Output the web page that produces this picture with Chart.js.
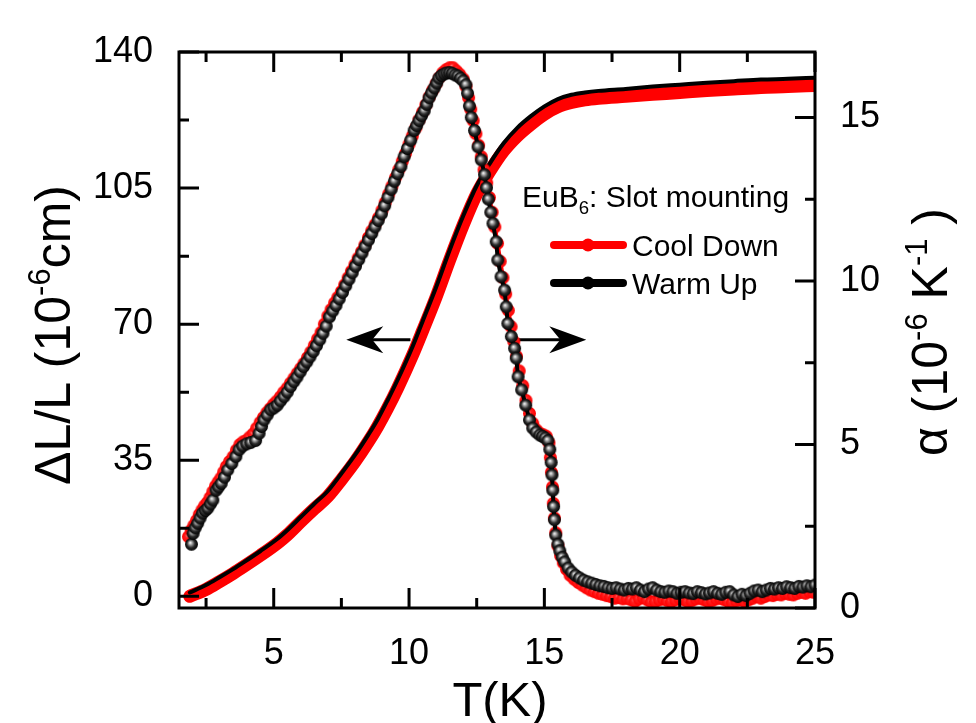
<!DOCTYPE html>
<html lang="en">
<head>
<meta charset="UTF-8">
<title>EuB6 thermal expansion</title>
<script src="https://cdn.jsdelivr.net/npm/chart.js@4.4.1/dist/chart.umd.min.js"></script>
<style>
  body { margin: 0; background: #fff; }
  canvas { display: block; }
</style>
</head>
<body>
<canvas id="expChart" width="976" height="723"></canvas>
<script>
// ---- data ----
// alpha (right axis), warm up run
var warmT = [
  1.96, 2.02, 2.10, 2.19, 2.28, 2.37, 2.47, 2.56, 2.66, 2.75,
  2.87, 2.96, 3.06, 3.18, 3.30, 3.45, 3.60, 3.72, 3.85, 4.00,
  4.15, 4.33, 4.46, 4.55, 4.64, 4.76, 4.89, 5.01, 5.13, 5.25,
  5.38, 5.50, 5.62, 5.74, 5.86, 5.98, 6.10, 6.22, 6.34, 6.46,
  6.58, 6.70, 6.82, 6.94, 7.06, 7.18, 7.30, 7.42, 7.54, 7.66,
  7.78, 7.90, 8.02, 8.14, 8.26, 8.38, 8.50, 8.62, 8.74, 8.86,
  8.98, 9.10, 9.22, 9.34, 9.46, 9.58, 9.70, 9.82, 9.94, 10.06,
  10.19, 10.28, 10.37, 10.46, 10.56, 10.65, 10.74, 10.83, 10.93, 11.02,
  11.10, 11.20, 11.30, 11.40, 11.50, 11.60, 11.70, 11.80, 11.90, 12.00,
  12.10, 12.16, 12.23, 12.30, 12.42, 12.55, 12.67, 12.79, 12.86, 12.93,
  13.02, 13.10, 13.22, 13.28, 13.40, 13.53, 13.59, 13.65, 13.78, 13.90,
  13.96, 14.03, 14.16, 14.31, 14.45, 14.57, 14.70, 14.83, 14.93, 15.03,
  15.13, 15.20, 15.25, 15.28, 15.31, 15.34, 15.37, 15.42, 15.50, 15.57,
  15.66, 15.75, 15.88, 16.01, 16.15, 16.30, 16.45, 16.60, 16.75, 16.90,
  17.05, 17.20, 17.35, 17.50, 17.65, 17.80, 17.95, 18.10, 18.25, 18.40,
  18.55, 18.70, 18.85, 19.00, 19.15, 19.30, 19.45, 19.60, 19.75, 19.90,
  20.05, 20.20, 20.35, 20.50, 20.65, 20.80, 20.95, 21.10, 21.25, 21.40,
  21.55, 21.70, 21.85, 22.00, 22.15, 22.30, 22.45, 22.60, 22.75, 22.90,
  23.05, 23.20, 23.35, 23.50, 23.65, 23.80, 23.95, 24.10, 24.25, 24.40,
  24.55, 24.70, 24.85, 25.00
];
var warmAlpha = [
  1.95, 2.28, 2.45, 2.59, 2.75, 2.90, 2.98, 3.05, 3.18, 3.30,
  3.60, 3.70, 3.81, 4.00, 4.22, 4.42, 4.63, 4.84, 4.95, 5.02,
  5.06, 5.12, 5.34, 5.55, 5.75, 5.90, 6.06, 6.12, 6.20, 6.33,
  6.46, 6.60, 6.77, 6.92, 7.06, 7.22, 7.38, 7.52, 7.68, 7.84,
  8.02, 8.20, 8.40, 8.62, 8.90, 9.08, 9.25, 9.45, 9.65, 9.85,
  10.05, 10.25, 10.45, 10.65, 10.85, 11.05, 11.25, 11.45, 11.65, 11.85,
  12.05, 12.30, 12.55, 12.80, 13.05, 13.28, 13.50, 13.80, 14.05, 14.30,
  14.60, 14.75, 14.90, 15.05, 15.20, 15.40, 15.60, 15.75, 15.90, 16.05,
  16.20, 16.28, 16.33, 16.36, 16.37, 16.35, 16.30, 16.27, 16.20, 16.12,
  16.00, 15.74, 15.35, 15.00, 14.60, 14.10, 13.70, 13.25, 12.85, 12.50,
  12.10, 11.76, 11.20, 10.64, 10.13, 9.72, 9.21, 8.70, 8.30, 7.94,
  7.64, 7.07, 6.67, 6.20, 5.75, 5.50, 5.38, 5.29, 5.25, 5.20,
  5.12, 4.85, 4.45, 4.07, 3.60, 3.10, 2.70, 2.23, 1.95, 1.75,
  1.55, 1.41, 1.22, 1.10, 1.00, 0.92, 0.85, 0.80, 0.76, 0.72,
  0.68, 0.66, 0.62, 0.60, 0.62, 0.58, 0.55, 0.60, 0.58, 0.62,
  0.55, 0.50, 0.58, 0.62, 0.55, 0.50, 0.48, 0.52, 0.50, 0.45,
  0.48, 0.50, 0.46, 0.44, 0.50, 0.47, 0.43, 0.46, 0.50, 0.45,
  0.42, 0.48, 0.50, 0.40, 0.35, 0.42, 0.38, 0.45, 0.52, 0.55,
  0.50, 0.55, 0.60, 0.58, 0.62, 0.60, 0.65, 0.62, 0.60, 0.66,
  0.64, 0.68, 0.65, 0.70
];

// alpha (right axis), cool down run
var coolT = [
  1.85, 1.95, 2.05, 2.15, 2.25, 2.35, 2.45, 2.55, 2.65, 2.75,
  2.85, 2.95, 3.05, 3.15, 3.25, 3.37, 3.50, 3.62, 3.75, 3.87,
  4.00, 4.12, 4.25, 4.37, 4.50, 4.62, 4.75, 4.87, 5.00, 5.12,
  5.25, 5.37, 5.50, 5.62, 5.75, 5.87, 6.00, 6.12, 6.25, 6.37,
  6.50, 6.62, 6.75, 6.87, 7.00, 7.12, 7.25, 7.37, 7.50, 7.62,
  7.75, 7.87, 8.00, 8.12, 8.25, 8.37, 8.50, 8.62, 8.75, 8.87,
  9.00, 9.12, 9.25, 9.37, 9.50, 9.62, 9.75, 9.87, 10.00, 10.12,
  10.25, 10.37, 10.50, 10.62, 10.75, 10.87, 11.00, 11.12, 11.25, 11.37,
  11.50, 11.62, 11.75, 11.87, 12.00, 12.10, 12.20, 12.28, 12.37, 12.47,
  12.57, 12.67, 12.77, 12.87, 12.97, 13.07, 13.17, 13.27, 13.37, 13.47,
  13.57, 13.67, 13.77, 13.87, 13.97, 14.07, 14.20, 14.32, 14.45, 14.57,
  14.70, 14.82, 14.95, 15.07, 15.17, 15.22, 15.26, 15.30, 15.33, 15.37,
  15.42, 15.50, 15.60, 15.70, 15.82, 15.95, 16.10, 16.25, 16.40, 16.55,
  16.70, 16.85, 17.00, 17.15, 17.30, 17.45, 17.60, 17.75, 17.90, 18.05,
  18.20, 18.35, 18.50, 18.65, 18.80, 18.95, 19.10, 19.25, 19.40, 19.55,
  19.70, 19.85, 20.00, 20.15, 20.30, 20.45, 20.60, 20.75, 20.90, 21.05,
  21.20, 21.35, 21.50, 21.65, 21.80, 21.95, 22.10, 22.25, 22.40, 22.55,
  22.70, 22.85, 23.00, 23.15, 23.30, 23.45, 23.60, 23.75, 23.90, 24.05,
  24.20, 24.35, 24.50, 24.65, 24.80, 24.95
];
var coolAlpha = [
  2.18, 2.38, 2.53, 2.68, 2.86, 3.00, 3.13, 3.23, 3.38, 3.56,
  3.73, 3.86, 3.98, 4.16, 4.33, 4.48, 4.63, 4.83, 5.00, 5.08,
  5.13, 5.23, 5.33, 5.50, 5.68, 5.83, 5.98, 6.10, 6.23, 6.33,
  6.46, 6.60, 6.73, 6.88, 7.03, 7.18, 7.33, 7.48, 7.66, 7.83,
  8.03, 8.23, 8.43, 8.68, 8.93, 9.13, 9.33, 9.50, 9.68, 9.88,
  10.10, 10.30, 10.50, 10.70, 10.90, 11.10, 11.33, 11.53, 11.73, 11.93,
  12.16, 12.40, 12.66, 12.90, 13.16, 13.40, 13.66, 13.90, 14.18, 14.43,
  14.68, 14.93, 15.16, 15.38, 15.63, 15.83, 16.03, 16.22, 16.37, 16.46,
  16.52, 16.52, 16.42, 16.32, 16.18, 15.95, 15.60, 15.25, 14.90, 14.50,
  14.15, 13.80, 13.40, 13.00, 12.55, 12.10, 11.65, 11.15, 10.60, 10.10,
  9.60, 9.10, 8.60, 8.15, 7.70, 7.25, 6.80, 6.35, 5.95, 5.65,
  5.45, 5.35, 5.30, 5.25, 5.05, 4.60, 4.15, 3.70, 3.20, 2.75,
  2.30, 1.90, 1.60, 1.38, 1.18, 1.00, 0.88, 0.78, 0.70, 0.62,
  0.55, 0.50, 0.45, 0.42, 0.38, 0.35, 0.30, 0.32, 0.28, 0.30,
  0.25, 0.20, 0.28, 0.32, 0.25, 0.18, 0.20, 0.25, 0.28, 0.22,
  0.20, 0.25, 0.30, 0.25, 0.20, 0.22, 0.28, 0.30, 0.25, 0.20,
  0.22, 0.28, 0.30, 0.25, 0.20, 0.18, 0.22, 0.25, 0.20, 0.25,
  0.30, 0.35, 0.30, 0.35, 0.40, 0.38, 0.42, 0.40, 0.45, 0.42,
  0.40, 0.45, 0.48, 0.45, 0.50, 0.48
];

// dL/L (left axis), both runs on the same temperatures
var dlT = [1.9, 2.5, 3.0, 3.5, 3.9, 4.5, 5.14, 5.5, 6.0, 6.5,
  7.0, 7.5, 8.0, 8.5, 8.84, 9.2, 9.58, 10.14, 10.5, 11.0,
  11.5, 12.0, 12.5, 13.0, 13.5, 14.0, 14.5, 15.0, 15.5, 16.0,
  16.5, 17.0, 18, 19, 20, 21, 22, 23, 24, 25];
var dlCool = [0.0, 1.8, 3.8, 5.9, 7.7, 10.5, 13.7, 15.8, 19.2, 22.5,
  25.7, 30.0, 34.6, 39.8, 43.7, 48.3, 53.6, 62.2, 68.3, 77.0,
  86.5, 95.5, 103.5, 109.5, 114.6, 118.4, 121.4, 124.0, 125.9, 127.0,
  127.7, 128.1, 128.6, 129.1, 129.6, 130.1, 130.5, 130.9, 131.1, 131.4];
var dlWarm = [1.0, 2.9, 4.9, 7.0, 8.8, 11.6, 14.8, 17.0, 20.4, 23.8,
  27.1, 31.6, 36.3, 41.6, 45.5, 50.3, 55.7, 64.4, 70.7, 79.5,
  89.0, 97.8, 105.6, 111.5, 116.6, 120.5, 123.5, 126.0, 127.9, 129.0,
  129.6, 130.0, 130.5, 131.1, 131.6, 132.1, 132.5, 132.9, 133.1, 133.4];

// axis ticks
var xMajor = [5, 10, 15, 20, 25];
var xMinor = [2.5, 7.5, 12.5, 17.5, 22.5];
var leftMajor = [0, 35, 70, 105, 140];
var leftMinor = [17.5, 52.5, 87.5, 122.5];
var rightMajor = [0, 5, 10, 15];
var rightMinor = [2.5, 7.5, 12.5];

var FONT = '"Liberation Sans", Arial, Helvetica, sans-serif';

function zip(xs, ys) {
  var out = [];
  for (var i = 0; i < Math.min(xs.length, ys.length); i++) {
    out.push({ x: xs[i], y: ys[i] });
  }
  return out;
}

// little shaded balls used as point markers
function makeBall(r, stops) {
  var c = document.createElement('canvas');
  c.width = c.height = Math.ceil(2 * r + 2);
  var g = c.getContext('2d');
  var m = c.width / 2;
  var grad = g.createRadialGradient(m - r * 0.2, m - r * 0.25, r * 0.05, m, m, r);
  stops.forEach(function (s) { grad.addColorStop(s[0], s[1]); });
  g.fillStyle = grad;
  g.beginPath();
  g.arc(m, m, r, 0, Math.PI * 2);
  g.fill();
  return c;
}
var blackBall = makeBall(6.5, [[0, '#f4f4f4'], [0.22, '#a8a8a8'], [0.6, '#2a2a2a'], [1, '#000']]);
var redBall = makeBall(6.5, [[0, '#ff9090'], [0.35, '#ff2020'], [1, '#ff0000']]);

// text with super/subscripts: parts = [[text, shift]] shift 1 = sup, -1 = sub
function richText(ctx, parts, size, x, y, align) {
  var w = 0;
  parts.forEach(function (p) {
    ctx.font = (p[1] ? size * 0.62 : size) + 'px ' + FONT;
    w += ctx.measureText(p[0]).width;
  });
  var cx = align === 'left' ? x : x - w / 2;
  parts.forEach(function (p) {
    ctx.font = (p[1] ? size * 0.62 : size) + 'px ' + FONT;
    var dy = p[1] === 1 ? -size * 0.4 : (p[1] === -1 ? size * 0.22 : 0);
    ctx.fillText(p[0], cx, y + dy);
    cx += ctx.measureText(p[0]).width;
  });
}

function arrow(ctx, x1, x2, y) {
  // line from x1 to tip x2
  var dir = x2 > x1 ? 1 : -1;
  ctx.beginPath();
  ctx.moveTo(x1, y);
  ctx.lineTo(x2 - dir * 20, y);
  ctx.stroke();
  ctx.beginPath();
  ctx.moveTo(x2, y);
  ctx.lineTo(x2 - dir * 37, y - 13.5);
  ctx.lineTo(x2 - dir * 26, y);
  ctx.lineTo(x2 - dir * 37, y + 13.5);
  ctx.closePath();
  ctx.fill();
}

var decor = {
  id: 'decor',
  beforeDatasetsDraw: function (chart) {
    var ctx = chart.ctx, sx = chart.scales.x, yl = chart.scales.yL;
    ctx.save();
    ctx.strokeStyle = '#000';
    ctx.fillStyle = '#000';
    ctx.lineWidth = 3;
    var ay = yl.getPixelForValue(66);
    arrow(ctx, sx.getPixelForValue(10.05), sx.getPixelForValue(7.68), ay);
    arrow(ctx, sx.getPixelForValue(13.9), sx.getPixelForValue(16.55), ay);
    ctx.restore();
  },
  afterDatasetsDraw: function (chart) {
    var ctx = chart.ctx, a = chart.chartArea;
    var sx = chart.scales.x, yl = chart.scales.yL, yr = chart.scales.yR;
    ctx.save();
    ctx.strokeStyle = '#000';
    ctx.lineWidth = 3;
    ctx.strokeRect(a.left, a.top, a.right - a.left, a.bottom - a.top);
    ctx.beginPath();
    function xt(v, len) {
      var p = sx.getPixelForValue(v);
      ctx.moveTo(p, a.bottom); ctx.lineTo(p, a.bottom - len);
      ctx.moveTo(p, a.top); ctx.lineTo(p, a.top + len);
    }
    function lt(v, len) {
      var p = yl.getPixelForValue(v);
      ctx.moveTo(a.left, p); ctx.lineTo(a.left + len, p);
    }
    function rt(v, len) {
      var p = yr.getPixelForValue(v);
      ctx.moveTo(a.right, p); ctx.lineTo(a.right - len, p);
    }
    xMajor.forEach(function (v) { xt(v, 20); });
    xMinor.forEach(function (v) { xt(v, 10); });
    leftMajor.forEach(function (v) { lt(v, 20); });
    leftMinor.forEach(function (v) { lt(v, 10); });
    rightMajor.forEach(function (v) { rt(v, 20); });
    rightMinor.forEach(function (v) { rt(v, 10); });
    ctx.stroke();
    ctx.restore();
  },
  afterDraw: function (chart) {
    var ctx = chart.ctx, a = chart.chartArea;
    ctx.save();
    ctx.fillStyle = '#000';
    ctx.textBaseline = 'alphabetic';

    // x title
    richText(ctx, [['T(K)', 0]], 49, (a.left + a.right) / 2 + 3, 716);

    // left title
    ctx.save();
    ctx.translate(70, 335);
    ctx.rotate(-Math.PI / 2);
    richText(ctx, [['\u0394L/L (10', 0], ['-6', 1], ['cm)', 0]], 50, 0, 0);
    ctx.restore();

    // right title
    ctx.save();
    ctx.translate(947, 332);
    ctx.rotate(-Math.PI / 2);
    richText(ctx, [['\u03b1 (10', 0], ['-6', 1], [' K', 0], ['-1', 1], [' )', 0]], 50, 0, 0);
    ctx.restore();

    // legend
    richText(ctx, [['EuB', 0], ['6', -1], [': Slot mounting', 0]], 30, 522, 207, 'left');
    var rows = [['#ff0000', 'Cool Down', 245], ['#000000', 'Warm Up', 283]];
    rows.forEach(function (r) {
      ctx.strokeStyle = r[0];
      ctx.fillStyle = r[0];
      ctx.lineWidth = 8;
      ctx.lineCap = 'round';
      ctx.beginPath();
      ctx.moveTo(554, r[2]);
      ctx.lineTo(623, r[2]);
      ctx.stroke();
      ctx.beginPath();
      ctx.arc(588, r[2], 6.5, 0, Math.PI * 2);
      ctx.fill();
      ctx.fillStyle = '#000';
      ctx.font = '30px ' + FONT;
      ctx.fillText(r[1], 632, r[2] + 11);
    });
    ctx.restore();
  }
};

var tickFont = { family: FONT, size: 36 };

var ctx = document.getElementById('expChart').getContext('2d');
var myChart = new Chart(ctx, {
  type: 'scatter',
  data: {
    datasets: [
      {
        label: 'Warm Up (alpha)',
        data: zip(warmT, warmAlpha),
        yAxisID: 'yR',
        showLine: true,
        borderColor: '#000',
        borderWidth: 4,
        pointStyle: blackBall,
        pointRadius: 6.5,
        order: 0,
        clip: 0
      },
      {
        label: 'Cool Down (alpha)',
        data: zip(coolT, coolAlpha),
        yAxisID: 'yR',
        showLine: true,
        borderColor: '#ff0000',
        borderWidth: 4,
        pointStyle: redBall,
        pointRadius: 6.5,
        order: 1,
        clip: 0
      },
      {
        label: 'Warm Up (dL/L)',
        data: zip(dlT, dlWarm),
        yAxisID: 'yL',
        showLine: true,
        borderColor: '#000',
        borderWidth: 4,
        borderCapStyle: 'round',
        pointRadius: 0,
        cubicInterpolationMode: 'monotone',
        order: 2,
        clip: 0
      },
      {
        label: 'Cool Down (dL/L)',
        data: zip(dlT, dlCool),
        yAxisID: 'yL',
        showLine: true,
        borderColor: '#ff0000',
        borderWidth: 13,
        borderCapStyle: 'round',
        pointRadius: 0,
        cubicInterpolationMode: 'monotone',
        order: 3,
        clip: 0
      }
    ]
  },
  options: {
    responsive: false,
    animation: false,
    devicePixelRatio: 1,
    layout: { padding: { top: 52, left: 0, right: 0, bottom: 0 } },
    plugins: { legend: { display: false }, tooltip: { enabled: false } },
    scales: {
      x: {
        type: 'linear',
        position: 'bottom',
        min: 1.5,
        max: 25,
        grid: { display: false, drawTicks: false },
        border: { display: false },
        ticks: { font: tickFont, color: '#000', padding: 24, maxRotation: 0 },
        afterBuildTicks: function (s) { s.ticks = xMajor.map(function (v) { return { value: v }; }); },
        afterFit: function (s) { s.height = 115; }
      },
      yL: {
        type: 'linear',
        position: 'left',
        min: -3,
        max: 140,
        grid: { display: false, drawTicks: false },
        border: { display: false },
        ticks: { font: tickFont, color: '#000', padding: 26 },
        afterBuildTicks: function (s) { s.ticks = leftMajor.map(function (v) { return { value: v }; }); },
        afterFit: function (s) { s.width = 179; }
      },
      yR: {
        type: 'linear',
        position: 'right',
        min: 0,
        max: 17,
        grid: { display: false, drawTicks: false },
        border: { display: false },
        ticks: { font: tickFont, color: '#000', padding: 25 },
        afterBuildTicks: function (s) { s.ticks = rightMajor.map(function (v) { return { value: v }; }); },
        afterFit: function (s) { s.width = 161; }
      }
    }
  },
  plugins: [decor]
});
</script>
</body>
</html>
